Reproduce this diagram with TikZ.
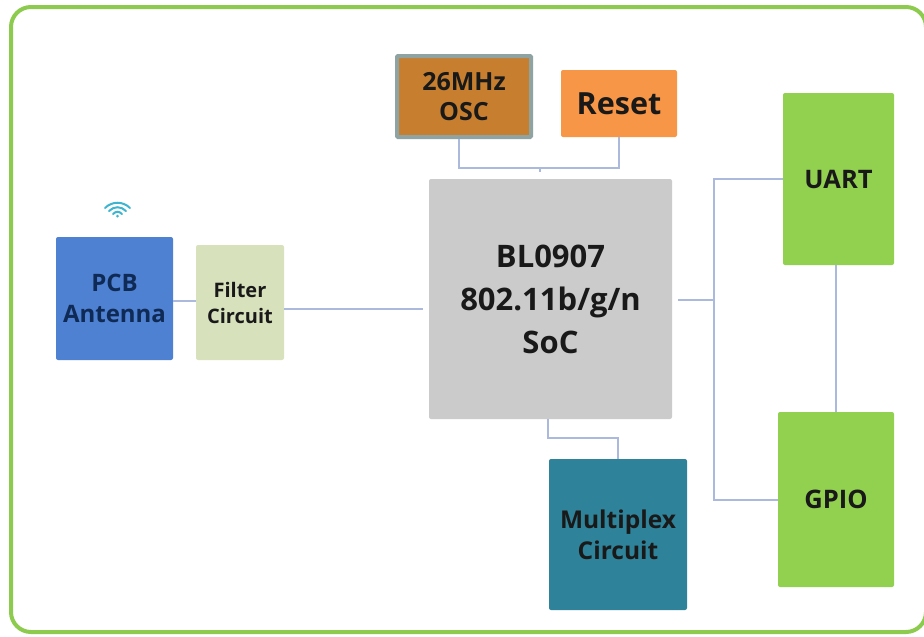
\documentclass[tikz,border=0pt]{standalone}
\usepackage{fontspec}
\setmainfont{Open Sans}
\definecolor{FrameColor}{HTML}{8CCB4E}
\definecolor{WireColor}{HTML}{AAB9DC}
\definecolor{OscColor}{HTML}{C77F2F}
\definecolor{OscEdge}{HTML}{8FA3A3}
\definecolor{ResetColor}{HTML}{F79646}
\definecolor{SocColor}{HTML}{CCCBCB}
\definecolor{AntennaColor}{HTML}{4F81D3}
\definecolor{AntennaText}{HTML}{0F2A55}
\definecolor{FilterColor}{HTML}{D7E2BC}
\definecolor{IoColor}{HTML}{92D14F}
\definecolor{MuxColor}{HTML}{2E8299}
\definecolor{WifiColor}{HTML}{3DB5D0}
\tikzset{
  blockbox/.style={rounded corners=2pt,inner sep=0pt,align=center,font=\bfseries,text=black!90},
  wire/.style={draw=WireColor,line width=2pt},
  wifi/.style={draw=WifiColor,line width=2pt,line cap=round}
}

\begin{document}
\begin{tikzpicture}[x=1pt,y=-1pt]
  \useasboundingbox (0,0) rectangle (924,637);

  %–– Marco exterior ––
  \draw[draw=FrameColor,line width=4pt,rounded corners=20pt] (11,7) rectangle (926,632);

  %–– Bloques ––
  \node[blockbox,fill=OscColor,draw=OscEdge,line width=4pt,rounded corners=1pt,minimum width=134pt,minimum height=81pt,font=\fontsize{25}{30}\selectfont\bfseries] (osc) at (464,96.5) {26MHz\\OSC};
  \node[blockbox,fill=ResetColor,minimum width=116pt,minimum height=67pt,font=\fontsize{30.5}{34}\selectfont\bfseries] (reset) at (619,103.5) {Reset};
  \node[blockbox,fill=SocColor,minimum width=243pt,minimum height=240pt,font=\fontsize{31}{43}\selectfont\bfseries] (soc) at (550.5,299) {BL0907\\802.11b/g/n\\SoC};
  \node[blockbox,fill=AntennaColor,text=AntennaText,minimum width=117pt,minimum height=123pt,font=\fontsize{24}{31}\selectfont\bfseries] (antenna) at (114.5,298.5) {PCB\\Antenna};
  \node[blockbox,fill=FilterColor,minimum width=88pt,minimum height=115pt,font=\fontsize{20}{26}\selectfont\bfseries] (filter) at (240,302.5) {Filter\\Circuit};
  \node[blockbox,fill=IoColor,minimum width=111pt,minimum height=172pt,font=\fontsize{25.5}{28}\selectfont\bfseries] (uart) at (838.5,179) {UART};
  \node[blockbox,fill=IoColor,minimum width=116pt,minimum height=175pt,font=\fontsize{25.5}{28}\selectfont\bfseries] (gpio) at (836,499.5) {GPIO};
  \node[blockbox,fill=MuxColor,minimum width=138pt,minimum height=151pt,font=\fontsize{24.5}{31}\selectfont\bfseries] (mux) at (618,534.5) {Multiplex\\Circuit};

  %–– Puntos de unión ––
  \coordinate (topJoin) at (540,168);
  \coordinate (topStub) at (540,172);
  \coordinate (filterEnd) at (423,309);
  \coordinate (socOut) at (678,300);
  \coordinate (busJoin) at (714,300);
  \coordinate (muxBend) at (548,438);

  %–– Conexiones ––
  \draw[wire] ([xshift=-5pt]osc.south) |- (topJoin) -| (reset.south);
  \draw[wire] (topJoin) -- (topStub);
  \draw[wire] (antenna.east |- 0,301) -- (filter.west |- 0,301);
  \draw[wire] (filter.east |- filterEnd) -- (filterEnd);
  \draw[wire] (socOut) -- (busJoin);
  \draw[wire] (uart.west) -| (busJoin) |- (gpio.west);
  \draw[wire] (uart.south -| 836,0) -- (gpio.north);
  \draw[wire] (soc.south -| muxBend) -- (muxBend) -| (mux.north);

  %–– Icono wifi ––
  \draw[wifi] (105,208) .. controls (112,201) and (123,201) .. (130,208);
  \draw[wifi] (109,211) .. controls (114,206) and (121,206) .. (126,211);
  \draw[wifi] (113,214) .. controls (116,211) and (119,211) .. (122,214);
  \fill[WifiColor] (117.5,216) circle (1.5pt);
\end{tikzpicture}
\end{document}
